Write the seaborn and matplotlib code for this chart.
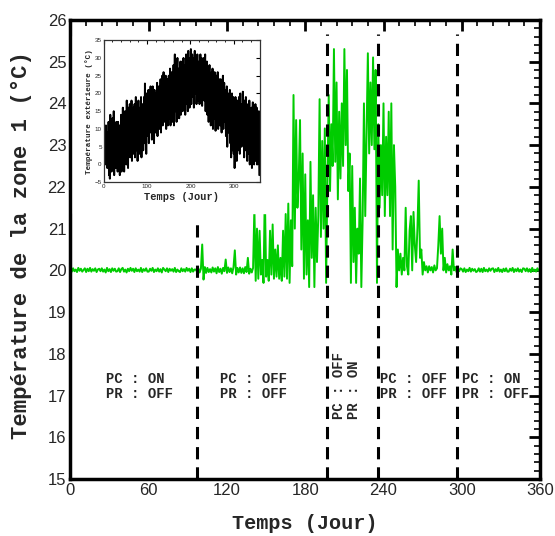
import numpy as np
import pandas as pd
import matplotlib
matplotlib.use('Agg')
import matplotlib.pyplot as plt
from matplotlib.ticker import MultipleLocator
import seaborn as sns


# ============================================================
# DONNÉES
# ============================================================

# Température de la zone 1 (°C), une valeur par jour, jours 0..360
zone1_temp = [
    20.03, 19.97, 20.05, 19.98, 20.02, 19.96, 20.06, 19.99, 20.04, 19.97, 20.01, 20.05,
    19.96, 20.04, 19.98, 20.06, 19.97, 20.03, 19.99, 20.05, 19.96, 20.02, 20.04, 19.98,
    20.05, 19.97, 20.02, 19.95, 20.06, 19.98, 20.03, 19.96, 20.05, 19.99, 20.04, 19.97,
    19.98, 20.05, 19.96, 20.03, 20.06, 19.97, 20.02, 19.95, 20.04, 19.98, 20.06, 19.99,
    20.04, 19.96, 20.05, 19.98, 20.02, 19.97, 20.06, 19.96, 20.03, 19.99, 20.05, 19.97,
    19.97, 20.04, 19.99, 20.06, 19.96, 20.02, 19.98, 20.05, 19.97, 20.03, 19.95, 20.06,
    20.02, 19.98, 20.05, 19.96, 20.04, 19.99, 20.03, 19.97, 20.06, 19.96, 20.02, 19.98,
    19.96, 20.05, 19.98, 20.03, 19.97, 20.06, 19.99, 20.04, 19.96, 20.05, 19.97, 20.02,
    20.02, 19.97, 20.05, 19.95, 20.04, 20.62, 19.78, 20.08, 19.94, 20.06, 19.96, 20.03,
    19.95, 20.07, 19.97, 20.05, 19.93, 20.08, 19.96, 20.04, 19.92, 20.06, 19.98, 20.26,
    19.94, 20.07, 19.96, 20.05, 19.93, 20.08, 20.48, 19.90, 20.06, 19.95, 20.07, 19.94,
    20.05, 19.93, 20.08, 19.96, 20.30, 19.92, 20.04, 19.95, 20.06, 21.50, 19.75, 21.00,
    19.80, 20.95, 19.90, 20.25, 19.70, 21.90, 19.85, 20.25, 19.75, 20.95, 19.90, 21.10,
    19.80, 20.50, 19.85, 20.60, 19.80, 20.30, 19.75, 20.95, 19.85, 21.35, 19.80, 21.60,
    19.70, 21.20, 20.10, 24.20, 21.00, 23.60, 21.50, 22.20, 23.60, 20.50, 22.80, 19.80,
    22.30, 19.90, 21.20, 19.60, 22.60, 20.30, 21.80, 19.60, 21.50, 20.20, 21.30, 24.10,
    20.80, 23.10, 21.00, 23.40, 19.70, 22.20, 24.20, 21.90, 23.50, 22.50, 25.30, 22.60,
    24.50, 21.70, 23.80, 22.20, 24.00, 22.50, 25.30, 23.00, 24.80, 21.90, 22.80, 19.70,
    22.50, 20.20, 21.50, 19.70, 21.00, 20.40, 22.20, 19.60, 21.20, 24.00, 21.30, 23.20,
    25.20, 22.80, 24.50, 23.00, 25.10, 22.90, 24.80, 19.70, 23.50, 21.50, 23.00, 21.80,
    24.00, 21.30, 23.20, 21.80, 23.80, 21.30, 24.00, 20.50, 23.00, 22.00, 19.60, 20.50,
    20.00, 20.40, 19.90, 20.30, 20.00, 21.50, 20.10, 19.90, 20.95, 21.30, 20.00, 21.40,
    20.60, 20.20, 21.00, 22.15, 20.30, 20.50, 19.90, 20.20, 20.00, 20.10, 19.95, 20.10,
    20.00, 20.08, 19.95, 20.12, 20.00, 20.05, 20.60, 21.30, 20.40, 21.00, 20.00, 20.30,
    19.95, 20.15, 20.00, 20.10, 19.90, 20.50, 20.00, 20.08, 19.96, 20.04, 19.98, 20.05,
    20.03, 19.97, 20.05, 19.96, 20.02, 19.98, 20.06, 19.97, 20.04, 19.99, 20.03, 19.96,
    19.98, 20.05, 19.97, 20.04, 19.96, 20.06, 19.98, 20.02, 19.97, 20.05, 19.99, 20.04,
    20.05, 19.96, 20.03, 19.98, 20.06, 19.97, 20.02, 19.96, 20.04, 19.98, 20.05, 19.97,
    19.97, 20.04, 19.99, 20.06, 19.96, 20.03, 19.98, 20.05, 19.97, 20.02, 19.96, 20.05,
    20.04, 19.98, 20.05, 19.97, 20.03, 19.96, 20.06, 19.98, 20.02, 19.97, 20.05, 19.99,
    20.02,
]

# Température extérieure (°C), une valeur par jour, jours 0..359
ext_temp = [
    8, 2, 10, 0, 6, 11, 3, 9, -1, 7,
    1, 12, -3, 9, -4, 14, 4, 10, -2, 8,
    13, 0, 6, 15, -3, 11, 2, 9, -1, 12,
    3, 10, -2, 12, 5, 0, 11, -3, 8, 4,
    14, -2, 9, 3, 16, 1, 12, -2, 7, 15,
    4, 13, 0, 18, 6, 11, -1, 16, 3, 9,
    17, 2, 12, 6, 18, 1, 10, 14, 3, 16,
    5, 17, 2, 12, 19, 4, 9, 15, 1, 13,
    18, 6, 11, 3, 16, 8, 19, 2, 14, 7,
    17, 4, 12, 19, 6, 22.8, 9, 15, 3, 20,
    8, 18, 11, 21, 6, 16, 20, 9, 22, 12,
    19, 7, 15, 22, 10, 18, 6, 21, 13, 17,
    9, 20, 14, 23, 8, 18, 12, 22, 10, 21,
    15, 24, 9, 20, 13, 25, 11, 19, 26, 14,
    22, 12, 18, 25, 10, 21, 16, 24, 11, 20,
    25, 13, 19, 27, 11, 22, 17, 26, 12, 23,
    18, 28, 11, 24, 31, 15, 21, 29, 12, 26,
    30, 16, 22, 27, 13, 25, 19, 29, 14, 24,
    20, 29, 15, 26, 30, 18, 23, 28, 14, 25,
    31, 17, 24, 29, 15, 32, 20, 27, 16, 30,
    22, 32.5, 17, 28, 31, 19, 26, 30, 16, 29,
    32, 20, 27, 30, 17, 25, 31, 18, 28, 23,
    29, 17, 24, 31, 19, 27, 30, 16.5, 25, 28,
    21, 30, 18, 26, 31, 15, 28, 23, 29, 14,
    24, 27, 12, 22, 28, 15, 25, 11, 20, 26,
    18, 27, 10, 23, 25, 13, 26, 19, 9.5, 22,
    25, 12, 20, 26, 10, 23, 16, 24, 11, 21,
    24, 14, 9, 22, 18, 25, 10, 20, 23, 12,
    19, 21, 8, 17, 22, 5, 15, 20, 9, 18,
    13, 21, 6, 18, 2, 16, 20, 4, 11, 19,
    3, 17, -1, 12, 19, 5, 14, 1, 18, 8,
    16, 4, 19, 10, 3, 20, 7, 15, 5, 17,
    6, 20.5, 9, 14, 2, 18, 11, 4, 19, 7,
    15, 1, 12, 17, 3, 9, 18, 0, 13, 5,
    10, 16, -1, 8, 17.5, 2, 12, 0, 15, 4,
    17, 1, 11, 16, 0, 9, 14, 2, 15, -3,
]

# Limites des périodes (jours) et états PC / PR
switch_days = [97, 197, 236, 296]
period_labels = ["PC : ON\nPR : OFF", "PC : OFF\nPR : OFF", "PC : OFF\nPR : OFF", "PC : ON\nPR : OFF"]
period_label_days = [27, 115, 237.5, 300]
rotated_labels = ["PC : OFF", "PR : ON"]
rotated_label_days = [206, 217.5]

zone_df = pd.DataFrame({"jour": np.arange(len(zone1_temp)), "temp": zone1_temp})
ext_df = pd.DataFrame({"jour": np.arange(len(ext_temp)), "temp": ext_temp})

# ============================================================
# FIGURE
# ============================================================

sns.set_theme(style="white")
plt.rcParams['font.family'] = ['Liberation Sans', 'DejaVu Sans']
mono = ['Liberation Mono', 'DejaVu Sans Mono']

fig = plt.figure(figsize=(5.55, 5.36), dpi=100)
ax = fig.add_axes([0.127, 0.106, 0.846, 0.857])

sns.lineplot(data=zone_df, x="jour", y="temp", ax=ax, color="#00cc00",
             linewidth=1.4, estimator=None)

for i, d in enumerate(switch_days):
    ymax = 0.57 if i == 0 else 0.97
    ax.axvline(d, ymin=0, ymax=ymax, color="black", linewidth=2.2,
               linestyle=(0, (4, 2.6)))

for txt, d in zip(period_labels, period_label_days):
    ax.text(d, 17.22, txt, family=mono, fontweight="bold", fontsize=10,
            ha="left", va="center", linespacing=1.05)
for txt, d in zip(rotated_labels, rotated_label_days):
    ax.text(d, 16.45, txt, family=mono, fontweight="bold", fontsize=10,
            rotation=90, ha="center", va="bottom")

ax.set_xlim(0, 360)
ax.set_ylim(15, 26)
ax.xaxis.set_major_locator(MultipleLocator(60))
ax.xaxis.set_minor_locator(MultipleLocator(12))
ax.yaxis.set_major_locator(MultipleLocator(1))
ax.yaxis.set_minor_locator(MultipleLocator(0.2))
ax.tick_params(which="both", direction="in", top=True, right=True, color="black")
ax.tick_params(which="major", length=8, width=2, labelsize=12, pad=3)
ax.tick_params(which="minor", length=4, width=1.2)
for s in ax.spines.values():
    s.set_linewidth(2.5)
    s.set_color("black")

ax.set_xlabel("Temps (Jour)", family=mono, fontweight="bold", fontsize=14.5, labelpad=11)
ax.set_ylabel("Température de la zone 1 (°C)", family=mono, fontweight="bold",
              fontsize=16)
ax.yaxis.set_label_coords(-0.083, 0.51)

# Encart : température extérieure
ins = fig.add_axes([0.187, 0.66, 0.281, 0.265])
ins.add_artist(plt.Rectangle((-0.2, -0.22), 1.25, 1.25, transform=ins.transAxes,
                             color="white", zorder=-1, clip_on=False))
sns.lineplot(data=ext_df, x="jour", y="temp", ax=ins, color="black",
             linewidth=1.4, estimator=None)
ins.set_xlim(0, 360)
ins.set_ylim(-5, 35)
ins.xaxis.set_major_locator(MultipleLocator(100))
ins.xaxis.set_minor_locator(MultipleLocator(20))
ins.yaxis.set_major_locator(MultipleLocator(5))
ins.tick_params(which="both", direction="in", top=True, right=True, color="black",
                labelsize=4.5, pad=1.5)
ins.tick_params(which="major", length=3, width=0.8)
ins.tick_params(which="minor", length=1.5, width=0.6)
for s in ins.spines.values():
    s.set_linewidth(0.9)
    s.set_color("#333333")
ins.set_xlabel("Temps (Jour)", family=mono, fontweight="bold", fontsize=7.5, labelpad=2)
ins.set_ylabel("Température extérieure (°C)", family=mono, fontweight="bold",
               fontsize=5.5, labelpad=1)

fig.savefig("out.png", dpi=100, facecolor="white")
plt.close(fig)
